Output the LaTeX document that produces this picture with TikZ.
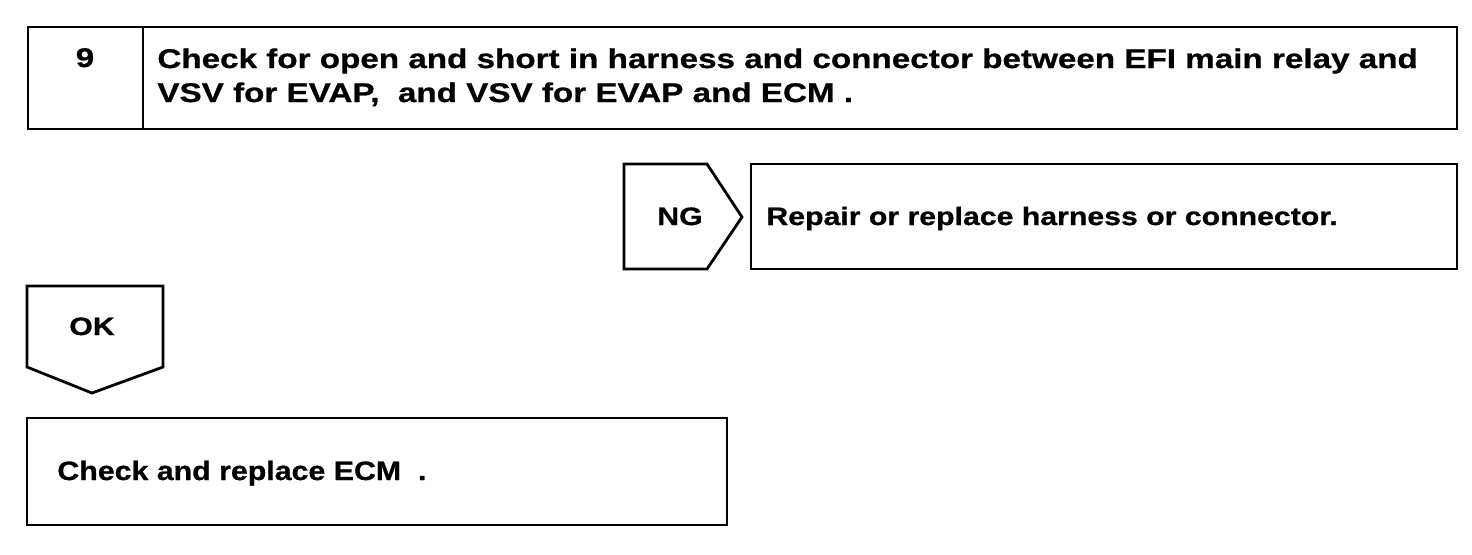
\documentclass[tikz,border=0pt]{standalone}
\usepackage{fontspec}
\setmainfont{Liberation Sans}
\tikzset{
  box/.style={draw=black, line width=1.4pt, line join=miter},
  lbl/.style={inner sep=0pt, text=black},
  toptxt/.style={lbl, font=\fontsize{13.5pt}{17pt}\selectfont\bfseries\addfontfeatures{FakeStretch=1.23,FakeBold=0.8}},
  smalltxt/.style={lbl, font=\fontsize{12.6pt}{14pt}\selectfont\bfseries\addfontfeatures{FakeStretch=1.2,FakeBold=0.8}},
  ecmtxt/.style={lbl, font=\fontsize{13.3pt}{15pt}\selectfont\bfseries\addfontfeatures{FakeStretch=1.14,FakeBold=0.8}},
}
\begin{document}
\begin{tikzpicture}[x=0.5pt,y=-0.5pt]
\useasboundingbox (0,0) rectangle (1472,554);
% top step box
\draw[box] (28,27) rectangle (1457,129);
\draw[box] (143,27) -- (143,129);
\node[toptxt, anchor=base] (num) at (85,67) {9};
\node[toptxt, anchor=base west, align=left] (task) at (157,102)
  {Check for open and short in harness and connector between EFI main relay and\\
   VSV for EVAP,\ \ and VSV for EVAP and ECM .};
% NG tab
\draw[box] (624,164) -- (707,164) -- (742,217) -- (707,269) -- (624,269) -- cycle;
\node[smalltxt, anchor=base] (ng) at (680,225) {NG};
\draw[box] (751,164) rectangle (1457,269);
\node[smalltxt, anchor=base west] (repair) at (766,225) {Repair or replace harness or connector.};
% OK tab
\draw[box] (27,286) -- (163,286) -- (163,367) -- (92,393) -- (27,367) -- cycle;
\node[smalltxt, anchor=base] (ok) at (92,335) {OK};
\draw[box] (27,418) rectangle (727,525);
\node[ecmtxt, anchor=base west] (ecm) at (57,480) {Check and replace ECM\ \ .};
\end{tikzpicture}
\end{document}
